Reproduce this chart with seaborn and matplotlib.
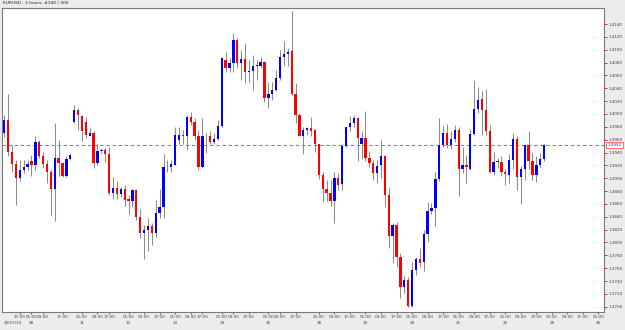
import matplotlib
matplotlib.use('Agg')
import matplotlib.pyplot as plt
import matplotlib.transforms as mtransforms
import seaborn as sns

# EURUSD 2h candles (140 bars)
opens = [
    1.3970, 1.3990, 1.3941, 1.3922, 1.3901, 1.3913, 1.3918, 1.3927, 1.3920, 1.3957,
    1.3934, 1.3922, 1.3910, 1.3884, 1.3931, 1.3923, 1.3904, 1.3930, 1.3988, 1.4006,
    1.3997, 1.3988, 1.3966, 1.3970, 1.3923, 1.3942, 1.3944, 1.3937, 1.3877, 1.3885,
    1.3875, 1.3883, 1.3867, 1.3865, 1.3882, 1.3840, 1.3815, 1.3820, 1.3825, 1.3815,
    1.3846, 1.3855, 1.3917, 1.3918, 1.3921, 1.3960, 1.3967, 1.3965, 1.3996, 1.3988,
    1.3965, 1.3918, 1.3965, 1.3966, 1.3957, 1.3961, 1.3982, 1.4084, 1.4071, 1.4080,
    1.4115, 1.4080, 1.4085, 1.4065, 1.4067, 1.4075, 1.4075, 1.4081, 1.4025, 1.4031,
    1.4038, 1.4056, 1.4088, 1.4094, 1.4098, 1.4031, 1.3998, 1.3966, 1.3975, 1.3978,
    1.3975, 1.3953, 1.3905, 1.3883, 1.3877, 1.3865, 1.3900, 1.3891, 1.3950, 1.3979,
    1.3986, 1.3993, 1.3953, 1.3962, 1.3931, 1.3923, 1.3908, 1.3921, 1.3935, 1.3874,
    1.3810, 1.3827, 1.3778, 1.3730, 1.3742, 1.3701, 1.3757, 1.3774, 1.3769, 1.3813,
    1.3849, 1.3853, 1.3899, 1.3951, 1.3971, 1.3951, 1.3961, 1.3975, 1.3915, 1.3920,
    1.3914, 1.3969, 1.4007, 1.4023, 1.4006, 1.3974, 1.3909, 1.3925, 1.3926, 1.3910,
    1.3905, 1.3929, 1.3961, 1.3902, 1.3914, 1.3952, 1.3927, 1.3905, 1.3920, 1.3930,
]
highs = [
    1.3998, 1.4031, 1.3952, 1.3929, 1.3929, 1.3929, 1.3929, 1.3936, 1.3965, 1.3960,
    1.3941, 1.3928, 1.3915, 1.3986, 1.3960, 1.3925, 1.3934, 1.3940, 1.4014, 1.4009,
    1.3998, 1.3996, 1.3978, 1.3973, 1.3954, 1.3947, 1.3947, 1.3949, 1.3902, 1.3895,
    1.3887, 1.3890, 1.3874, 1.3883, 1.3883, 1.3852, 1.3827, 1.3838, 1.3830, 1.3866,
    1.3883, 1.3938, 1.3929, 1.3928, 1.3980, 1.3980, 1.3975, 1.3998, 1.4003, 1.3993,
    1.3975, 1.3993, 1.3971, 1.3973, 1.3970, 1.3991, 1.4089, 1.4097, 1.4087, 1.4126,
    1.4119, 1.4100, 1.4111, 1.4084, 1.4092, 1.4084, 1.4088, 1.4082, 1.4050, 1.4050,
    1.4068, 1.4099, 1.4114, 1.4102, 1.4160, 1.4048, 1.4001, 1.3980, 1.3980, 1.3995,
    1.3976, 1.3954, 1.3910, 1.3897, 1.3897, 1.3910, 1.3908, 1.3954, 1.3980, 1.3997,
    1.3998, 1.3995, 1.3973, 1.4005, 1.3942, 1.3928, 1.3928, 1.3960, 1.3936, 1.3885,
    1.3831, 1.3832, 1.3783, 1.3748, 1.3747, 1.3770, 1.3778, 1.3791, 1.3820, 1.3863,
    1.3861, 1.3909, 1.3993, 1.3981, 1.3984, 1.3974, 1.3983, 1.3979, 1.3948, 1.3936,
    1.3976, 1.4053, 1.4042, 1.4035, 1.4039, 1.3983, 1.3941, 1.3931, 1.3935, 1.3915,
    1.3937, 1.3971, 1.3965, 1.3919, 1.3952, 1.3973, 1.3939, 1.3934, 1.3939, 1.3954,
]
lows = [
    1.3964, 1.3934, 1.3910, 1.3858, 1.3896, 1.3908, 1.3913, 1.3904, 1.3913, 1.3932,
    1.3916, 1.3892, 1.3843, 1.3834, 1.3904, 1.3902, 1.3902, 1.3928, 1.3986, 1.3975,
    1.3958, 1.3963, 1.3965, 1.3916, 1.3920, 1.3939, 1.3925, 1.3874, 1.3867, 1.3867,
    1.3871, 1.3857, 1.3845, 1.3856, 1.3835, 1.3807, 1.3775, 1.3786, 1.3796, 1.3809,
    1.3838, 1.3838, 1.3910, 1.3910, 1.3920, 1.3954, 1.3954, 1.3944, 1.3983, 1.3960,
    1.3913, 1.3916, 1.3939, 1.3954, 1.3954, 1.3960, 1.3980, 1.4066, 1.4066, 1.4066,
    1.4071, 1.4053, 1.4048, 1.4050, 1.4037, 1.4053, 1.4071, 1.4019, 1.4009, 1.4022,
    1.4035, 1.4053, 1.4074, 1.4074, 1.4030, 1.3986, 1.3965, 1.3937, 1.3967, 1.3965,
    1.3941, 1.3899, 1.3863, 1.3865, 1.3857, 1.3831, 1.3882, 1.3882, 1.3949, 1.3974,
    1.3979, 1.3927, 1.3930, 1.3927, 1.3918, 1.3897, 1.3892, 1.3900, 1.3856, 1.3791,
    1.3768, 1.3762, 1.3713, 1.3722, 1.3699, 1.3699, 1.3749, 1.3762, 1.3755, 1.3801,
    1.3845, 1.3825, 1.3896, 1.3949, 1.3947, 1.3945, 1.3957, 1.3872, 1.3908, 1.3893,
    1.3913, 1.3967, 1.4001, 1.3967, 1.3967, 1.3908, 1.3905, 1.3916, 1.3904, 1.3890,
    1.3892, 1.3915, 1.3882, 1.3860, 1.3897, 1.3915, 1.3897, 1.3894, 1.3918, 1.3927,
]
closes = [
    1.3990, 1.3941, 1.3922, 1.3901, 1.3913, 1.3918, 1.3922, 1.3920, 1.3957, 1.3934,
    1.3922, 1.3910, 1.3884, 1.3931, 1.3923, 1.3904, 1.3930, 1.3936, 1.4006, 1.3998,
    1.3974, 1.3967, 1.3970, 1.3923, 1.3943, 1.3944, 1.3937, 1.3877, 1.3885, 1.3875,
    1.3883, 1.3866, 1.3865, 1.3882, 1.3840, 1.3815, 1.3820, 1.3825, 1.3815, 1.3846,
    1.3855, 1.3918, 1.3918, 1.3922, 1.3967, 1.3967, 1.3965, 1.3995, 1.3988, 1.3965,
    1.3918, 1.3965, 1.3966, 1.3957, 1.3961, 1.3982, 1.4087, 1.4071, 1.4080, 1.4115,
    1.4080, 1.4085, 1.4065, 1.4067, 1.4075, 1.4076, 1.4081, 1.4025, 1.4031, 1.4038,
    1.4056, 1.4088, 1.4094, 1.4097, 1.4031, 1.3998, 1.3966, 1.3975, 1.3978, 1.3974,
    1.3953, 1.3905, 1.3883, 1.3877, 1.3865, 1.3900, 1.3890, 1.3950, 1.3979, 1.3986,
    1.3993, 1.3962, 1.3962, 1.3932, 1.3923, 1.3908, 1.3919, 1.3935, 1.3874, 1.3810,
    1.3827, 1.3778, 1.3730, 1.3742, 1.3701, 1.3757, 1.3774, 1.3768, 1.3813, 1.3849,
    1.3853, 1.3899, 1.3951, 1.3971, 1.3951, 1.3961, 1.3975, 1.3915, 1.3920, 1.3917,
    1.3969, 1.4007, 1.4022, 1.4006, 1.3974, 1.3909, 1.3925, 1.3927, 1.3909, 1.3907,
    1.3929, 1.3961, 1.3902, 1.3914, 1.3951, 1.3927, 1.3905, 1.3920, 1.3930, 1.3952,
]

# time axis: bar index of each label
time_ticks = [4, 7, 10, 15, 20, 24, 27, 32, 36, 40, 44, 48, 51, 56, 59, 63, 68, 71, 75,
              81, 85, 89, 93, 97, 101, 105, 109, 113, 117, 121, 125, 129, 133, 137, 141,
              145, 149, 153]
time_labels = ['17:00', '01:00', '09:00',
               '17:00', '01:00', '09:00', '17:00', '01:00', '09:00', '17:00', '01:00', '09:00',
               '17:00', '01:00', '09:00', '17:00', '01:00', '09:00', '17:00',
               '01:00', '09:00', '17:00', '01:00', '09:00', '17:00', '01:00', '09:00',
               '17:00', '01:00', '09:00', '17:00', '01:00', '09:00', '17:00', '01:00',
               '09:00', '17:00', '01:00']
date_ticks = [7, 20, 32, 44, 56, 68, 81, 93, 105, 117, 129, 141, 153]
date_labels = ['08', '11', '12', '13', '14', '15', '18', '19', '20', '21', '22', '25', '26']

symbol_title = 'EURUSD , 2 hours, #140 / 300'
last_price = 1.3952

sns.set_theme(style='white')
plt.rcParams['font.family'] = ['DejaVu Sans']

fig = plt.figure(figsize=(6.25, 3.3), dpi=100)
fig.patch.set_facecolor('#ececec')
ax = fig.add_axes([2 / 625, 1 - 311.7 / 330, 602.3 / 625, 304.2 / 330])
ax.set_facecolor('white')

n = len(opens)
idx = list(range(n))
up = [c >= o for o, c in zip(opens, closes)]

# wicks
ax.vlines(idx, lows, highs, color='#8c8c8c', lw=0.75, zorder=2)
# bodies
body_h = [max(abs(c - o), 0.00012) for o, c in zip(opens, closes)]
body_b = [min(o, c) for o, c in zip(opens, closes)]
colors = ['#0000ff' if u else '#ff0000' for u in up]
ax.bar(idx, body_h, bottom=body_b, width=0.6, color=colors, edgecolor='none',
       linewidth=0, zorder=3)

# current price line
ax.axhline(last_price, color='#7878ff', lw=0.8, ls=(0, (3, 2.5)), zorder=1)

ax.set_xlim(-0.59, 154.5)
ax.set_ylim(1.36923, 1.41657)

# y axis on the right
yt = [1.3700 + 0.002 * k for k in range(23)]
ax.yaxis.tick_right()
ax.set_yticks(yt)
ax.set_yticklabels(['%.4f' % v for v in yt])
ax.tick_params(axis='y', which='major', length=2, width=0.6, color='#ff0000',
               labelsize=3, labelcolor='#404040', pad=0.8, right=True, left=False)

ax.set_xticks(time_ticks)
ax.set_xticklabels(time_labels)
ax.tick_params(axis='x', which='major', length=1.5, width=0.6, color='#ff0000',
               labelsize=3, labelcolor='#404040', pad=1.2, bottom=True)

for s in ax.spines.values():
    s.set_color('#7a7a7a')
    s.set_linewidth(0.8)

# date row
trans = mtransforms.blended_transform_factory(ax.transData, ax.transAxes)
for x, lab in zip(date_ticks, date_labels):
    ax.text(x, -0.037, lab, transform=trans, fontsize=3, color='#404040',
            ha='center', va='center')
ax.text(0.002, -0.037, '10/07/10', transform=ax.transAxes, fontsize=3,
        color='#404040', ha='left', va='center')

# last price box
ptrans = mtransforms.blended_transform_factory(ax.transAxes, ax.transData)
ax.text(1.005, last_price, '%.4f' % last_price, transform=ptrans, fontsize=3,
        color='#2020d0', ha='left', va='center', zorder=5,
        bbox=dict(boxstyle='square,pad=0.3', fc='white', ec='#ff5a5a', lw=0.6))

fig.text(3 / 625, 1 - 3.5 / 330, symbol_title, fontsize=3.2, color='#202020',
         ha='left', va='center')

fig.savefig('out.png', dpi=100, facecolor=fig.get_facecolor())
